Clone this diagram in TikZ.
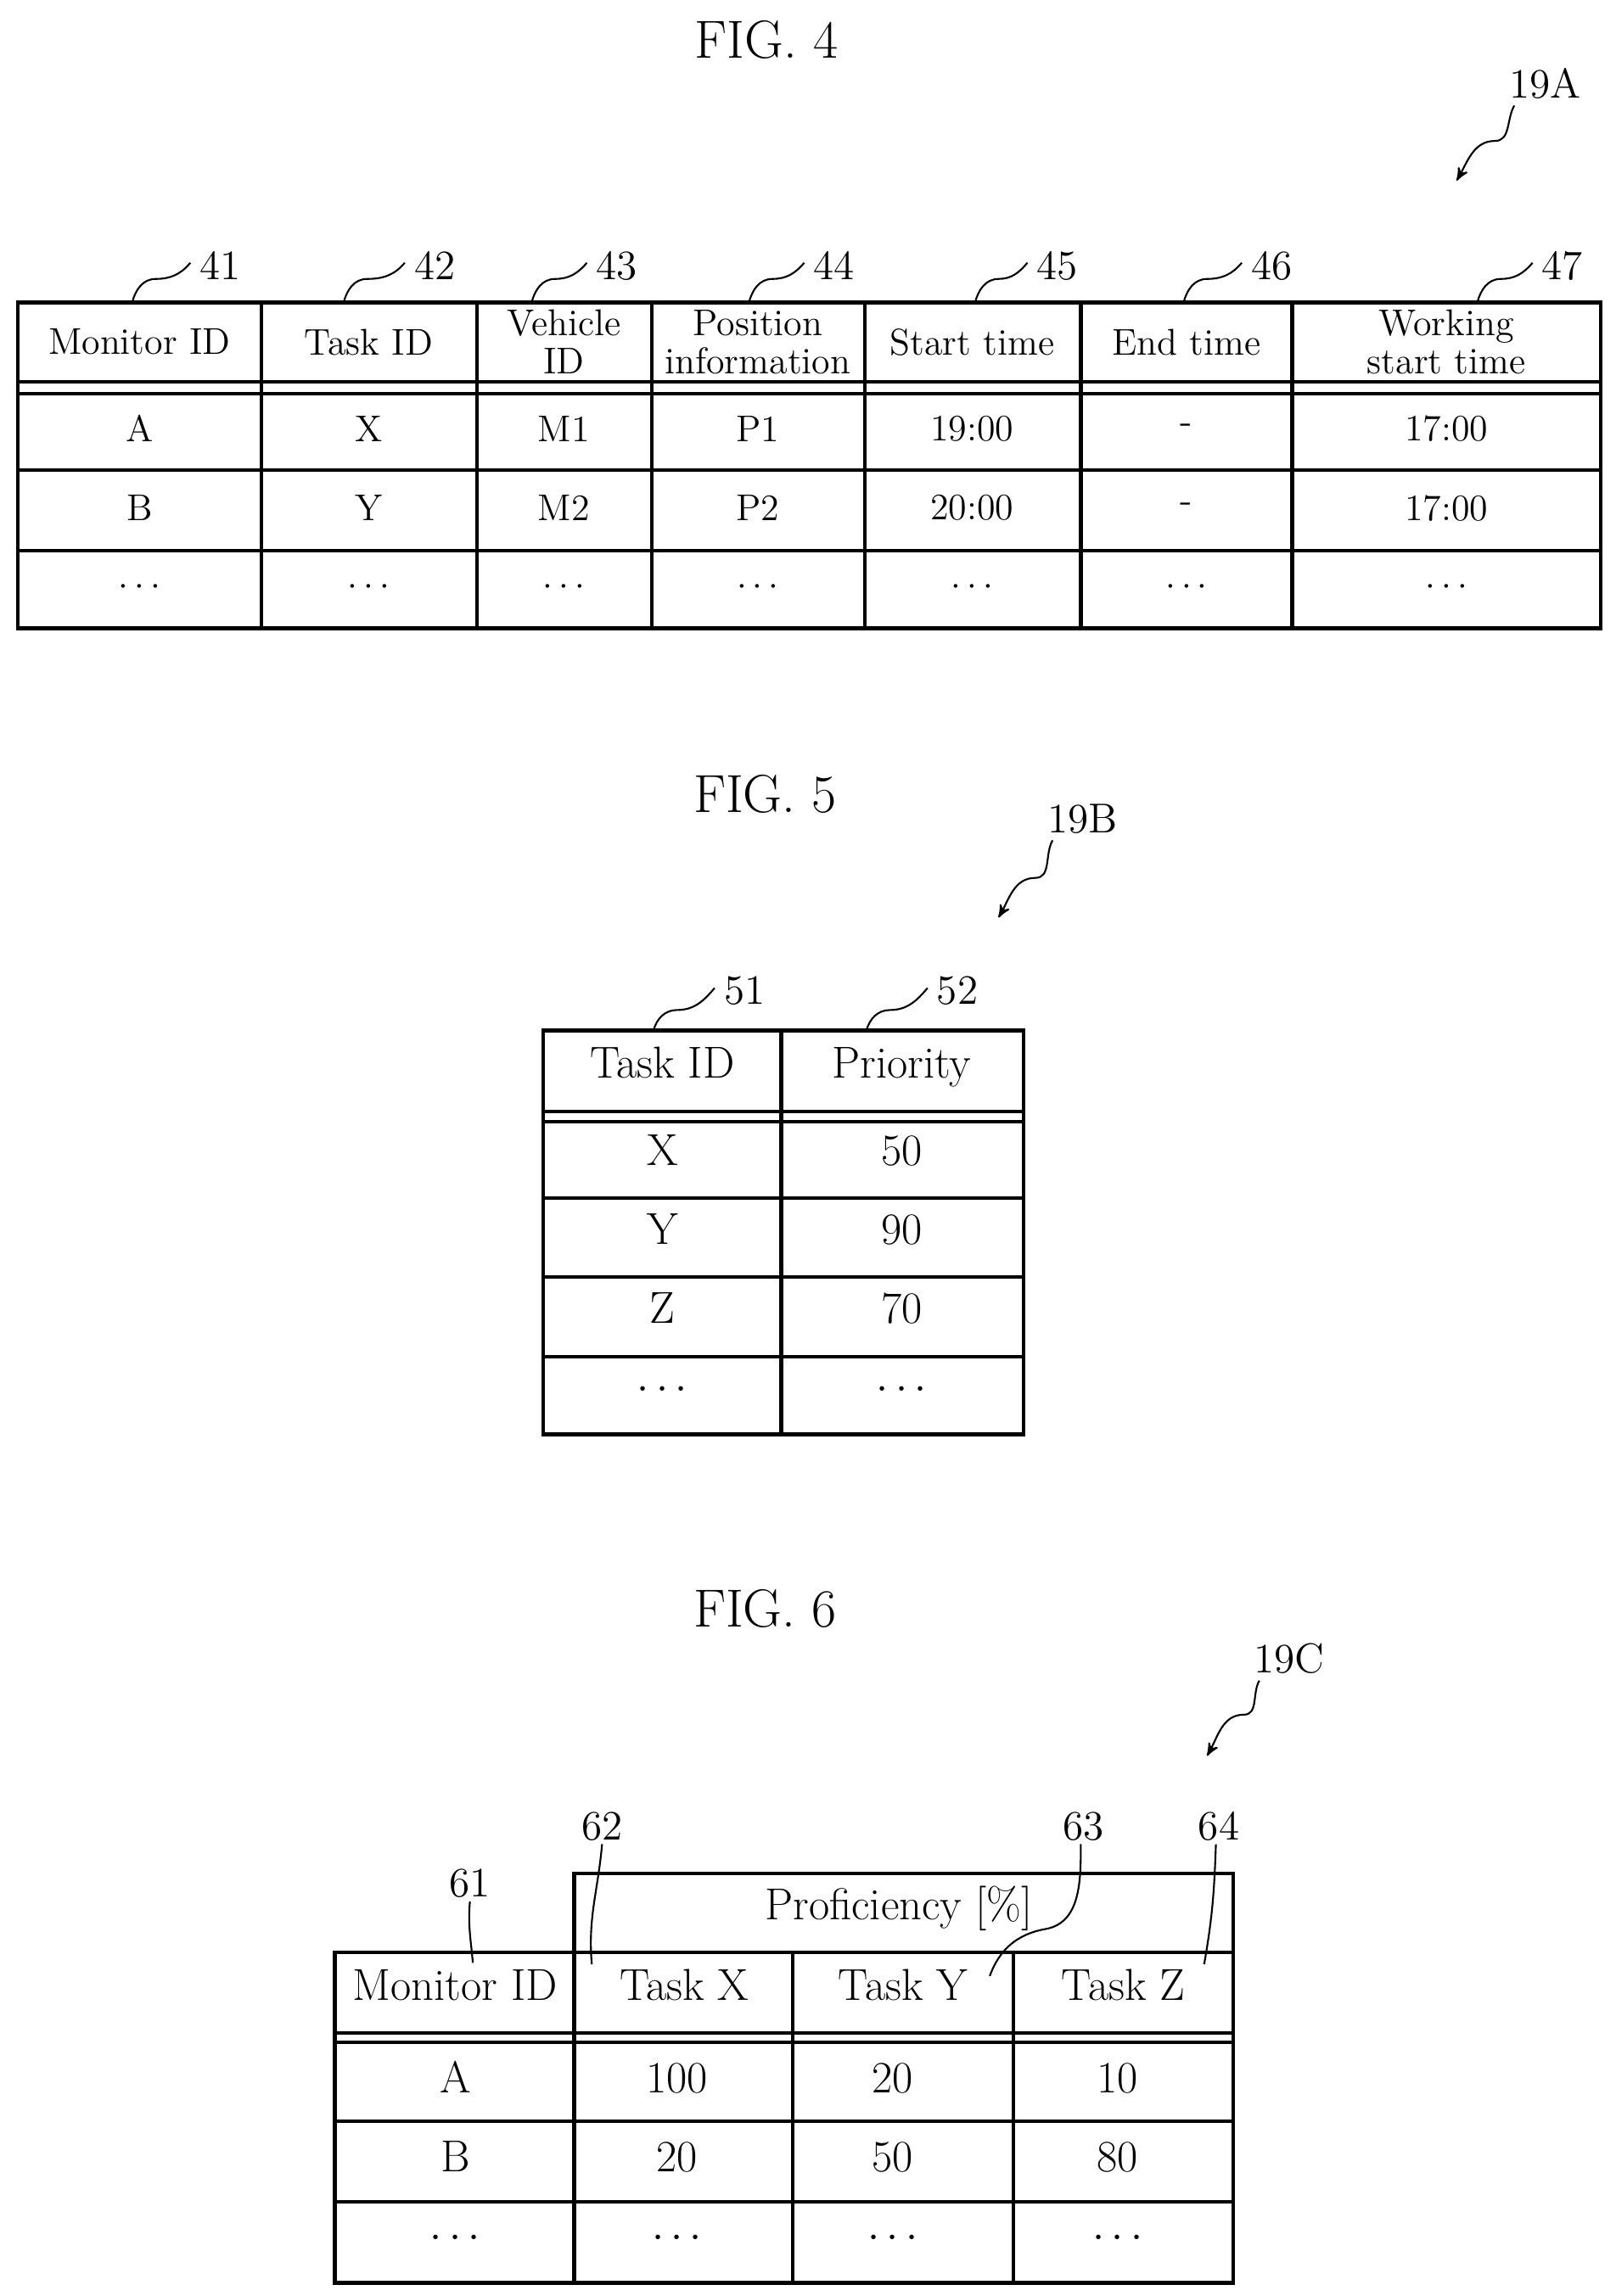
\documentclass[tikz,border=0pt]{standalone}
\usetikzlibrary{arrows,positioning,calc}
\tikzset{
 grid/.style={line width=1.2pt},
 cellA/.style={font=\fontsize{12.5}{12.8}\selectfont, align=center, inner sep=0pt},
 cellB/.style={font=\fontsize{15}{16}\selectfont, inner sep=0pt, text height=0.7em, text depth=0.15em},
 refnum/.style={font=\fontsize{14}{16}\selectfont, inner sep=1pt},
 figtitle/.style={font=\fontsize{18}{20}\selectfont},
 leader/.style={line width=0.6pt},
 pointer/.style={line width=0.6pt, ->, >=stealth'}
}
\begin{document}
\begin{tikzpicture}[x=0.0173cm, y=-0.0173cm]
 \useasboundingbox (0,0) rectangle (1100,1564);

 % FIG. 4
 \node[figtitle] (f4) at (522,27) {FIG. 4};
 \node[refnum] (r19a) at (1052,57) {19A};
 \coordinate (p19a) at (992,123);
 \draw[pointer] (r19a.south west) ++(6,2) to[out=-120,in=0] (1018,96) to[out=180,in=60] (p19a);
 \draw[grid] (12,206) rectangle (1090,428);
 \foreach \yy in {260,268,320,375} \draw[grid] (12,\yy) -- (1090,\yy);
 \foreach \xx in {178,325,444,589,736,880} \draw[grid] (\xx,206) -- (\xx,428);
 \node[cellA] (h41) at (95,233) {Monitor ID};
 \node[cellA] (h42) at (251,233) {Task ID};
 \node[cellA] (h43) at (384,233) {Vehicle\\ID};
 \node[cellA] (h44) at (516,233) {Position\\information};
 \node[cellA] (h45) at (662,233) {Start time};
 \node[cellA] (h46) at (808,233) {End time};
 \node[cellA] (h47) at (985,233) {Working\\start time};
 \foreach \cx/\a/\b in {95/A/B,251/X/Y,384/M1/M2,516/P1/P2,662/19:00/20:00,808/-/-,985/17:00/17:00}{
  \node[cellA] at (\cx,292) {\a};
  \node[cellA] at (\cx,346) {\b};
  \node[cellA] at (\cx,400) {$\cdots$};
 }
 % reference numerals 41-47
 \foreach \n/\lx/\ex in {41/150/90,42/296/234,43/420/362,44/568/510,45/720/664,46/866/806,47/1064/1006}{
  \node[refnum] (r\n) at (\lx,181) {\n};
  \coordinate (e\n) at (\ex,206);
  \draw[leader] (r\n.west) ++(-4,-2) to[out=-130,in=0] ($(e\n)+(16,-16)$) to[out=180,in=75] (e\n);
 }

 % FIG. 5
 \node[figtitle] (f5) at (521,541) {FIG. 5};
 \node[refnum] (r19b) at (737,558) {19B};
 \coordinate (p19b) at (680,625);
 \draw[pointer] (r19b.south west) ++(6,2) to[out=-120,in=0] (705,598) to[out=180,in=60] (p19b);
 \draw[grid] (370,702) rectangle (697,977);
 \foreach \yy in {757,764,816,870,924} \draw[grid] (370,\yy) -- (697,\yy);
 \draw[grid] (532,702) -- (532,977);
 \node[cellB] (h51) at (451,729) {Task ID};
 \node[cellB] (h52) at (614,729) {Priority};
 \foreach \a/\b/\yy in {X/50/788,Y/90/842,Z/70/896,$\cdots$/$\cdots$/948}{
  \node[cellB] at (451,\yy) {\a};
  \node[cellB] at (614,\yy) {\b};
 }
 \foreach \n/\lx/\ex in {51/507/445,52/652/590}{
  \node[refnum] (r\n) at (\lx,675) {\n};
  \coordinate (e\n) at (\ex,702);
  \draw[leader] (r\n.west) ++(-4,-2) to[out=-130,in=0] ($(e\n)+(16,-14)$) to[out=180,in=75] (e\n);
 }

 % FIG. 6
 \node[figtitle] (f6) at (521,1096) {FIG. 6};
 \node[refnum] (r19c) at (878,1130) {19C};
 \coordinate (p19c) at (822,1196);
 \draw[pointer] (r19c.south west) ++(6,2) to[out=-120,in=0] (847,1168) to[out=180,in=60] (p19c);
 \draw[grid] (391,1276) rectangle (840,1330);
 \draw[grid] (228,1330) rectangle (840,1555);
 \foreach \yy in {1385,1391,1445,1500} \draw[grid] (228,\yy) -- (840,\yy);
 \foreach \xx in {391,540,690} \draw[grid] (\xx,1330) -- (\xx,1555);
 \node[cellB] (hp) at (612,1302) {Proficiency [\%]};
 \node[cellB] (h61) at (310,1357) {Monitor ID};
 \node[cellB] (h62) at (466,1357) {Task X};
 \node[cellB] (h63) at (615,1357) {Task Y};
 \node[cellB] (h64) at (765,1357) {Task Z};
 \foreach \a/\b/\c/\d/\yy in {A/100/20/10/1420,B/20/50/80/1474,$\cdots$/$\cdots$/$\cdots$/$\cdots$/1526}{
  \node[cellB] at (310,\yy) {\a};
  \node[cellB] at (461,\yy) {\b};
  \node[cellB] at (608,\yy) {\c};
  \node[cellB] at (761,\yy) {\d};
 }
 \node[refnum] (r61) at (320,1283) {61};
 \node[refnum] (r62) at (410,1244) {62};
 \node[refnum] (r63) at (738,1244) {63};
 \node[refnum] (r64) at (830,1244) {64};
 \coordinate (e61) at (322,1337);
 \coordinate (e62) at (403,1338);
 \coordinate (e63) at (674,1346);
 \coordinate (e64) at (820,1338);
 \draw[leader] (r61.south) to[out=-95,in=95] (e61);
 \draw[leader] (r62.south) to[out=-95,in=95] (e62);
 \draw[leader] (r63.south) ++(-2,0) to[out=-90,in=10] (712,1314) to[out=190,in=70] (e63);
 \draw[leader] (r64.south) ++(-2,0) to[out=-92,in=80] (e64);
\end{tikzpicture}
\end{document}
